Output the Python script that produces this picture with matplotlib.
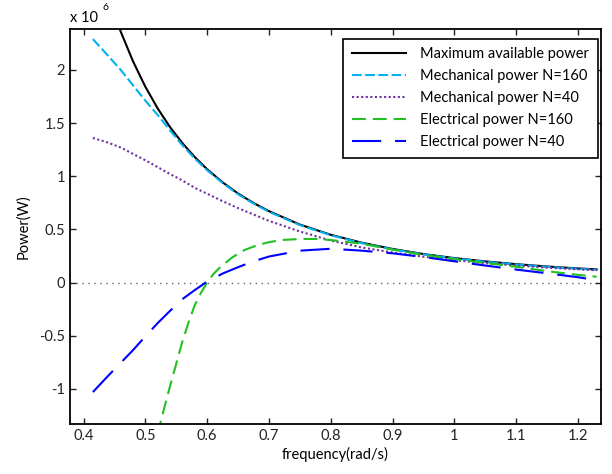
import matplotlib
matplotlib.use("Agg")
import matplotlib.pyplot as plt

plt.rcParams['font.family'] = ['Lato', 'DejaVu Sans']
plt.rcParams['lines.scale_dashes'] = False

# frequency (rad/s) and power in units of 10^6 W
freq = [0.415, 0.44, 0.46, 0.48, 0.5, 0.52, 0.54, 0.56, 0.58, 0.6, 0.625,
        0.65, 0.675, 0.7, 0.75, 0.8, 0.85, 0.9, 0.95, 1.0, 1.05, 1.1, 1.15,
        1.2, 1.23]
p_max = [3.22, 2.70, 2.36, 2.08, 1.84, 1.636, 1.46, 1.31, 1.179, 1.065, 0.942,
         0.837, 0.748, 0.671, 0.545, 0.449, 0.375, 0.316, 0.268, 0.23, 0.199,
         0.173, 0.151, 0.133, 0.124]
p_mech_160 = [2.29, 2.13, 2.0, 1.855, 1.71, 1.575, 1.43, 1.29, 1.165, 1.055, 0.935,
              0.83, 0.742, 0.665, 0.54, 0.445, 0.371, 0.312, 0.265, 0.227, 0.196,
              0.17, 0.148, 0.13, 0.12]
p_mech_40 = [1.36, 1.315, 1.27, 1.21, 1.15, 1.085, 1.02, 0.96, 0.89, 0.835, 0.765,
             0.70, 0.64, 0.58, 0.48, 0.395, 0.33, 0.283, 0.243, 0.21, 0.183,
             0.16, 0.14, 0.125, 0.115]
p_elec_40 = [-1.03, -0.875, -0.755, -0.635, -0.505, -0.38, -0.265, -0.155, -0.07, 0.01, 0.085,
             0.145, 0.20, 0.245, 0.30, 0.318, 0.30, 0.275, 0.24, 0.20, 0.16,
             0.122, 0.087, 0.05, 0.022]

freq_e160 = [0.5, 0.51, 0.52, 0.53, 0.54, 0.55, 0.56, 0.57, 0.58, 0.59, 0.6, 0.61,
             0.62, 0.64, 0.66, 0.68, 0.7, 0.72, 0.75, 0.78, 0.8, 0.85, 0.9, 0.95,
             1.0, 1.05, 1.1, 1.15, 1.2, 1.23]
p_elec_160 = [-1.95, -1.66, -1.42, -1.19, -0.97, -0.76, -0.55, -0.37, -0.21, -0.095, 0.0, 0.08,
              0.14, 0.235, 0.305, 0.35, 0.38, 0.40, 0.41, 0.41, 0.40, 0.365, 0.31, 0.26,
              0.22, 0.185, 0.148, 0.107, 0.072, 0.055]

labels = ['Maximum available power', 'Mechanical power N=160',
          'Mechanical power N=40', 'Electrical power N=160',
          'Electrical power N=40']

fig = plt.figure(figsize=(6.12, 4.74), dpi=100)
ax = fig.add_axes([0.1144, 0.1055, 0.8676, 0.8323])

ax.axhline(0, color='#666666', lw=1.0, dashes=(1.0, 3.3), zorder=1)

ax.plot(freq, p_max, color='black', lw=1.5, label=labels[0])
ax.plot(freq, p_mech_160, color='#00B0F0', lw=1.5, dashes=(7, 2.5), label=labels[1])
ax.plot(freq, p_mech_40, color='#7030A0', lw=1.5, dashes=(1.5, 1.8), label=labels[2])
ax.plot(freq_e160, p_elec_160, color='#22C022', lw=1.5, dashes=(10, 5), label=labels[3])
ax.plot(freq, p_elec_40, color='#0000FF', lw=1.5, dashes=(21, 10), label=labels[4])

ax.set_xlim(0.378, 1.237)
ax.set_ylim(-1.33, 2.38)
ax.set_xticks([0.4, 0.5, 0.6, 0.7, 0.8, 0.9, 1.0, 1.1, 1.2])
ax.set_xticklabels(['0.4', '0.5', '0.6', '0.7', '0.8', '0.9', '1', '1.1', '1.2'])
ax.set_yticks([-1, -0.5, 0, 0.5, 1, 1.5, 2])
ax.set_yticklabels(['-1', '-0.5', '0', '0.5', '1', '1.5', '2'])
ax.tick_params(direction='in', top=True, right=True, length=4, width=1,
               labelsize=10.5, colors='#222222')
for s in ax.spines.values():
    s.set_linewidth(1.3)

ax.set_xlabel('frequency(rad/s)', fontsize=10.5, labelpad=3)
ax.set_ylabel('Power(W)', fontsize=10.5, labelpad=6)
ax.text(0.0, 1.012, 'x 10', transform=ax.transAxes, fontsize=10.5, va='bottom', ha='left')
ax.text(0.062, 1.045, '6', transform=ax.transAxes, fontsize=7.5, va='bottom', ha='left')

leg = ax.legend(loc='upper right', bbox_to_anchor=(0.9944, 0.977), borderaxespad=0,
                fontsize=10.5, handlelength=3.7, handletextpad=1.0, labelspacing=0.55,
                borderpad=0.6, fancybox=False, framealpha=1)
leg.get_frame().set_edgecolor('black')
leg.get_frame().set_linewidth(1.2)

fig.savefig('out.png', dpi=100)
